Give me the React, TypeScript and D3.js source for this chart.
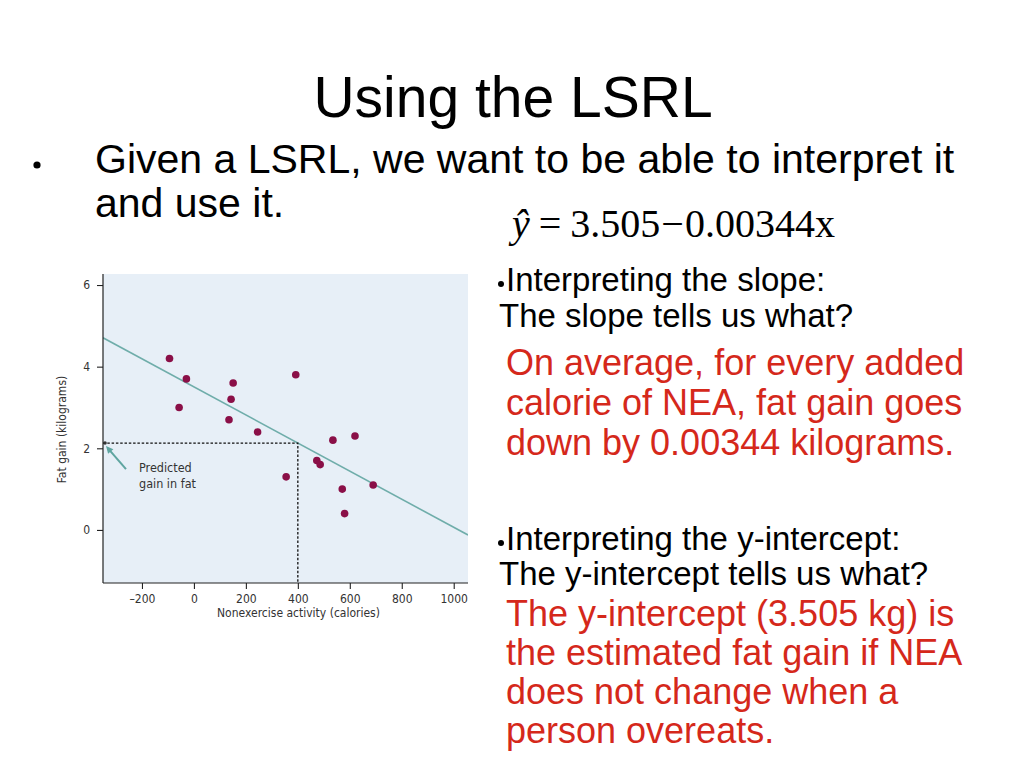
import { useEffect, useRef } from "react";
import * as d3 from "d3";

// nonexercise activity (calories) vs fat gain (kg)
const neaChange = [-94, -57, -29, 135, 143, 151, 245, 355, 392, 473, 486, 535, 571, 580, 620, 690];
const fatGain = [4.2, 3.0, 3.7, 2.7, 3.2, 3.6, 2.4, 1.3, 3.8, 1.7, 1.6, 2.2, 1.0, 0.4, 2.3, 1.1];
const xTicks = [-200, 0, 200, 400, 600, 800, 1000];
const yTicks = [0, 2, 4, 6];
const intercept = 3.505;
const slope = -0.00344;
const predictAt = 400;

const slopeLines = [
  "On average, for every added",
  "calorie of NEA, fat gain goes",
  "down by 0.00344 kilograms.",
];
const interceptLines = [
  "The y-intercept (3.505 kg) is",
  "the estimated fat gain if NEA",
  "does not change when a",
  "person overeats.",
];

const W = 1023;
const H = 767;
const SANS = "'Liberation Sans', Arial, sans-serif";
const NARROW = "'Liberation Sans Narrow', 'DejaVu Sans Condensed', sans-serif";
const RED = "#d5281b";

export default function App() {
  const ref = useRef<SVGGElement | null>(null);

  useEffect(() => {
    const g = d3.select(ref.current);
    g.selectAll("*").remove();

    const left = 103;
    const right = 468;
    const top = 274;
    const bottom = 583;

    const x = d3.scaleLinear().domain([-350, 1055]).range([left, right]);
    const y = d3.scaleLinear().domain([-1.3, 6.27]).range([bottom, top]);

    g.append("rect")
      .attr("x", left)
      .attr("y", top)
      .attr("width", right - left)
      .attr("height", bottom - top)
      .attr("fill", "#e7eff7");

    g.append("defs")
      .append("clipPath")
      .attr("id", "plot-clip")
      .append("rect")
      .attr("x", left)
      .attr("y", top)
      .attr("width", right - left)
      .attr("height", bottom - top);

    // regression line
    const fit = (v: number) => intercept + slope * v;
    const [x0, x1] = x.domain();
    g.append("line")
      .attr("clip-path", "url(#plot-clip)")
      .attr("x1", x(x0))
      .attr("y1", y(fit(x0)))
      .attr("x2", x(x1))
      .attr("y2", y(fit(x1)))
      .attr("stroke", "#6fadaa")
      .attr("stroke-width", 1.6);

    // prediction guide
    const pred = fit(predictAt);
    g.append("path")
      .attr("d", `M${x(x0)},${y(pred)}H${x(predictAt)}V${bottom}`)
      .attr("fill", "none")
      .attr("stroke", "#111")
      .attr("stroke-width", 1.3)
      .attr("stroke-dasharray", "2.5,1.8");

    g.append("circle")
      .attr("cx", x(x0) + 2)
      .attr("cy", y(pred))
      .attr("r", 1.8)
      .attr("fill", "#333");

    // arrow + label
    const ax = x(x0) + 3;
    const ay = y(pred) + 3;
    const bx = ax + 20;
    const by = ay + 23;
    const ang = Math.atan2(ay - by, ax - bx);
    const hl = 8;
    g.append("line")
      .attr("x1", bx)
      .attr("y1", by)
      .attr("x2", ax + Math.cos(ang) * -4)
      .attr("y2", ay + Math.sin(ang) * -4)
      .attr("stroke", "#5fa5a0")
      .attr("stroke-width", 2);
    g.append("path")
      .attr(
        "d",
        `M${ax},${ay}L${ax - hl * Math.cos(ang - 0.45)},${ay - hl * Math.sin(ang - 0.45)}L${ax - hl * Math.cos(ang + 0.45)},${ay - hl * Math.sin(ang + 0.45)}Z`
      )
      .attr("fill", "#5fa5a0");

    const lab = g
      .append("text")
      .attr("font-family", NARROW)
      .attr("font-size", 12.5)
      .attr("fill", "#333");
    lab.append("tspan").attr("x", 139).attr("y", 472).text("Predicted");
    lab.append("tspan").attr("x", 139).attr("y", 488).text("gain in fat");

    // points
    g.append("g")
      .selectAll("circle")
      .data(neaChange.map((v, i) => [v, fatGain[i]]))
      .join("circle")
      .attr("cx", (d) => x(d[0]))
      .attr("cy", (d) => y(d[1]))
      .attr("r", 3.8)
      .attr("fill", "#8a0f47");

    // axes
    const yAxis = g
      .append("g")
      .attr("transform", `translate(${left},0)`)
      .call(
        d3
          .axisLeft(y)
          .tickValues(yTicks)
          .tickSize(6)
          .tickPadding(7)
          .tickFormat(d3.format("d"))
      );
    const xAxis = g
      .append("g")
      .attr("transform", `translate(0,${bottom})`)
      .call(
        d3
          .axisBottom(x)
          .tickValues(xTicks)
          .tickSize(6)
          .tickPadding(5)
          .tickFormat((d) => {
            const v = d as number;
            return v < 0 ? `\u2013${Math.abs(v)}` : `${v}`;
          })
      );
    for (const a of [yAxis, xAxis]) {
      a.select(".domain").attr("stroke", "#222").attr("stroke-width", 1.2);
      a.selectAll(".tick line").attr("stroke", "#222").attr("stroke-width", 1.1);
      a.selectAll(".tick text")
        .attr("font-family", NARROW)
        .attr("font-size", 12)
        .attr("fill", "#333");
    }
    yAxis.select(".domain").attr("d", `M0,${top}V${bottom}`);
    xAxis.select(".domain").attr("d", `M${left},0H${right}`);

    g.append("text")
      .attr("x", (left + right) / 2 + 13)
      .attr("y", 617)
      .attr("text-anchor", "middle")
      .attr("font-family", NARROW)
      .attr("font-size", 12)
      .attr("fill", "#333")
      .text("Nonexercise activity (calories)");

    g.append("text")
      .attr("transform", `translate(66,${(top + bottom) / 2 + 1}) rotate(-90)`)
      .attr("text-anchor", "middle")
      .attr("font-family", NARROW)
      .attr("font-size", 12)
      .attr("fill", "#333")
      .text("Fat gain (kilograms)");
  }, []);

  return (
    <svg
      width={W}
      height={H}
      style={{ position: "absolute", left: 0, top: 0, background: "#fff" }}
    >
      <g ref={ref} />
      <g fontFamily={SANS}>
        <text x={513} y={117} textAnchor="middle" fontSize={57} fill="#000">
          Using the LSRL
        </text>
        <circle cx={37} cy={165} r={3.6} fill="#000" />
        <text x={95} y={173} fontSize={41} fill="#000">
          Given a LSRL, we want to be able to interpret it
        </text>
        <text x={95} y={217} fontSize={41} fill="#000">
          and use it.
        </text>

        <text
          x={512}
          y={237}
          fontSize={40}
          fill="#000"
          fontFamily="'Liberation Serif', 'Times New Roman', serif"
        >
          <tspan fontStyle="italic">ŷ</tspan>
          <tspan dx={9}>=</tspan>
          <tspan dx={9}>3.505</tspan>
          <tspan dx={1}>−</tspan>
          <tspan dx={1}>0.00344x</tspan>
        </text>

        <circle cx={501} cy={284} r={3} fill="#000" />
        <text x={506} y={291} fontSize={33} fill="#000">
          Interpreting the slope:
        </text>
        <text x={499} y={327} fontSize={33} fill="#000">
          The slope tells us what?
        </text>
        {slopeLines.map((s, i) => (
          <text key={s} x={506} y={375 + i * 40} fontSize={36} fill={RED}>
            {s}
          </text>
        ))}

        <circle cx={501} cy={543} r={3} fill="#000" />
        <text x={506} y={550} fontSize={33} fill="#000">
          Interpreting the y-intercept:
        </text>
        <text x={499} y={585} fontSize={33} fill="#000">
          The y-intercept tells us what?
        </text>
        {interceptLines.map((s, i) => (
          <text key={s} x={506} y={626 + i * 39} fontSize={36} fill={RED}>
            {s}
          </text>
        ))}
      </g>
    </svg>
  );
}
